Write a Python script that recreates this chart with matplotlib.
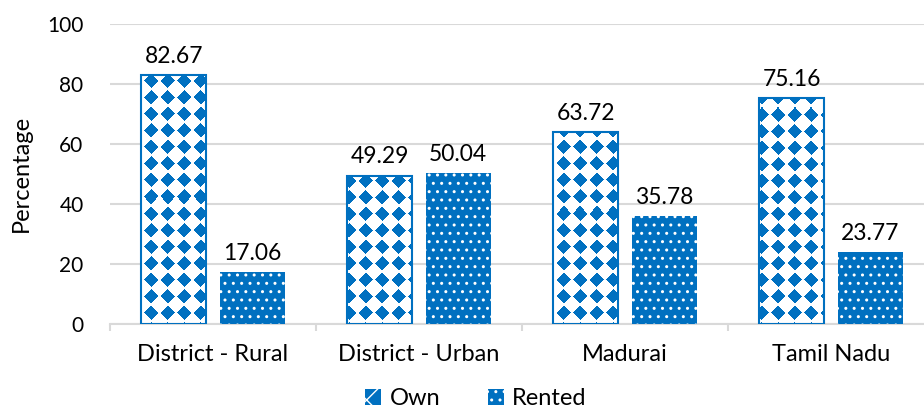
import numpy as np
import matplotlib
matplotlib.use("Agg")
import matplotlib.pyplot as plt
from matplotlib.patches import Patch

plt.rcParams['font.family'] = ['Lato', 'DejaVu Sans']
plt.rcParams['hatch.linewidth'] = 1.0

categories = ['District - Rural', 'District - Urban', 'Madurai', 'Tamil Nadu']
own = [82.67, 49.29, 63.72, 75.16]
rented = [17.06, 50.04, 35.78, 23.77]

blue = '#0070C0'
grid_grey = '#D9D9D9'

fig = plt.figure(figsize=(9.24, 4.12), dpi=100)
ax = fig.add_axes([110 / 924, 1 - 323.5 / 412, 824 / 924, 300 / 412])

x = np.arange(len(categories))
bar_width = 0.315
off = 0.19

# own bars: outline only, diamond texture drawn as a clipped image below
bars_own = ax.bar(x - off, own, width=bar_width, facecolor='none',
                  edgecolor=blue, linewidth=1.5, zorder=3, label='Own')
bars_rent = ax.bar(x + off, rented, width=bar_width, color=blue,
                   edgecolor='white', linewidth=0, hatch='..', zorder=3,
                   label='Rented')

# diamond pattern texture (approx. 16.5 px period)
H, W = 300, 824
p = 16.5
yy, xx = np.mgrid[0:H, 0:W] + 0.5
dx = np.mod(xx, p) - p / 2
dy = np.mod(yy, p) - p / 2
mask = (np.abs(dx) + np.abs(dy)) < 0.43 * p
tex = np.ones((H, W, 3))
tex[mask] = matplotlib.colors.to_rgb(blue)
for b in bars_own:
    im = ax.imshow(tex, extent=(-0.5, 3.5, 0, 100), aspect='auto',
                   interpolation='nearest', zorder=2)
    im.set_clip_path(b)

ax.bar_label(bars_own, labels=[f'{v:.2f}' for v in own], padding=6, fontsize=16.5)
ax.bar_label(bars_rent, labels=[f'{v:.2f}' for v in rented], padding=6, fontsize=16.5)

ax.set_xlim(-0.5, 3.5)
ax.set_ylim(0, 100)
ax.set_yticks([0, 20, 40, 60, 80, 100])
ax.yaxis.grid(True, color=grid_grey, linewidth=1.5)
ax.set_axisbelow(True)
ax.tick_params(axis='y', length=0, pad=19, labelsize=15)
ax.set_xticks(x)
ax.set_xticklabels(categories, fontsize=17)
ax.set_xticks([-0.5, 0.5, 1.5, 2.5, 3.5], minor=True)
ax.tick_params(axis='x', which='major', length=0, pad=15)
ax.tick_params(axis='x', which='minor', length=5, color=grid_grey, width=1.5)

for s in ['top', 'right', 'left']:
    ax.spines[s].set_visible(False)
ax.spines['bottom'].set_color(grid_grey)
ax.spines['bottom'].set_linewidth(1.5)

ax.set_ylabel('Percentage', fontsize=17)
ax.yaxis.set_label_coords(-78 / 824, 0.5)

own_handle = Patch(facecolor=blue, edgecolor='white', linewidth=0, hatch='x')
fig.legend([own_handle, bars_rent], ['Own', 'Rented'], loc='center',
           bbox_to_anchor=(0.515, 0.032), ncol=2, frameon=False, fontsize=17,
           handlelength=0.7, handleheight=0.7, handletextpad=0.35,
           columnspacing=2.0)

fig.savefig('out.png', dpi=100)
